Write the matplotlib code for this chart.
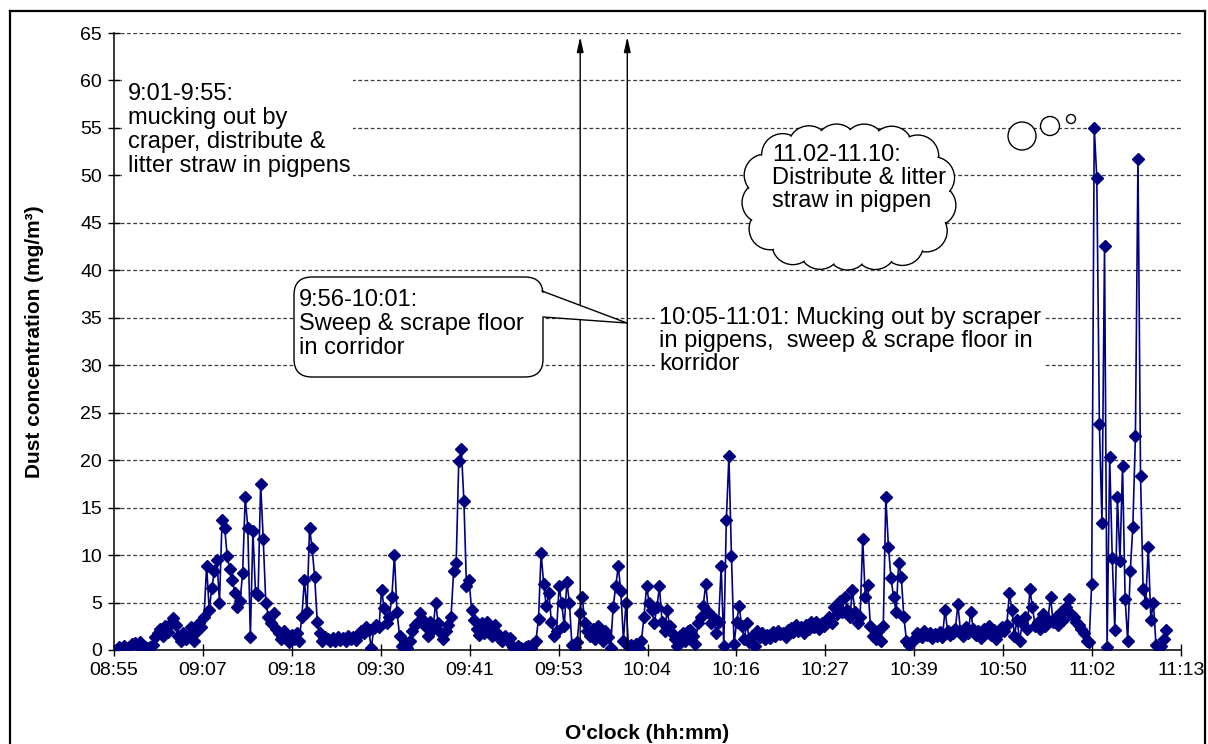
import matplotlib
matplotlib.use("Agg")
import matplotlib.pyplot as plt
from matplotlib.patches import Rectangle, FancyBboxPatch, Circle, Polygon
import numpy as np

# ---------------- data ----------------
# samples every 20 s, first sample at 08:55:40 (x axis = minutes after 08:55)
start_min = 40 / 60
step_min = 20 / 60
dust = [
    0.3, 0.2, 0.4,  0.2, 0.3, 0.6,  0.7, 0.5, 0.8,  0.4, 0.3, 0.2,
    0.3, 0.5, 1.4,  1.8, 2.2, 1.5,  2.5, 1.9, 2.8,  3.4, 2.6, 1.5,
    1.0, 1.8, 1.2,  1.5, 2.4, 1.0,  1.9, 2.8, 2.4,  3.5, 8.9, 4.2,
    6.5, 8.3, 9.5,  5.0, 13.7, 12.9,  9.9, 8.5, 7.4,  6.0, 4.5, 5.2,
    8.1, 16.1, 12.9,  1.4, 12.5, 6.0,  5.8, 17.5, 11.7,  5.0, 3.5, 2.8,
    3.9, 2.2, 1.8,  1.2, 2.0, 1.5,  0.8, 1.6, 1.2,  1.8, 1.0, 3.5,
    7.4, 4.0, 12.9,  10.7, 7.7, 3.0,  1.8, 1.0, 1.4,  1.2, 0.9, 1.3,
    1.0, 1.4, 1.1,  1.3, 1.0, 1.5,  1.2, 1.4, 1.1,  1.6, 2.0, 1.8,
    2.4, 2.1, 0.2,  2.3, 2.6, 2.4,  6.3, 4.4, 2.8,  3.5, 5.6, 10.0,
    4.0, 1.5, 0.4,  0.8, 0.2, 1.0,  2.0, 2.6, 3.0,  3.9, 3.2, 2.5,
    1.5, 3.0, 2.2,  5.0, 2.8, 1.8,  1.2, 2.0, 2.6,  3.5, 8.3, 9.2,
    19.9, 21.2, 15.7,  6.7, 7.4, 4.2,  3.2, 2.2, 1.6,  2.8, 1.8, 3.0,
    2.2, 1.5, 2.6,  1.8, 1.2, 1.0,  1.5, 1.0, 1.3,  0.3, 0.2, 0.4,
    0.2, 0.1, 0.3,  0.4, 0.2, 0.6,  1.0, 3.3, 10.2,  7.0, 4.6, 6.0,
    3.0, 1.5, 2.0,  6.7, 4.9, 2.5,  7.2, 5.0, 0.5,  0.3, 0.8, 3.9,
    5.6, 2.8, 2.0,  1.5, 2.2, 1.2,  2.5, 1.8, 1.0,  2.0, 1.4, 0.2,
    4.5, 6.7, 8.8,  6.2, 1.0, 5.0,  0.3, 0.5, 0.2,  0.6, 0.2, 1.0,
    3.5, 6.7, 5.0,  4.2, 2.8, 4.5,  6.7, 3.0, 2.0,  4.2, 2.5, 1.8,
    1.2, 0.4, 1.5,  1.8, 1.0, 2.0,  2.1, 1.5, 0.6,  2.8, 3.5, 4.6,
    7.0, 4.0, 2.8,  3.5, 1.8, 3.0,  8.8, 0.4, 13.7,  20.4, 9.9, 0.6,
    3.0, 4.6, 2.5,  1.2, 2.8, 0.8,  1.5, 0.4, 2.0,  1.4, 1.8, 1.2,
    1.6, 1.3, 1.9,  1.5, 2.0, 1.7,  1.8, 1.4, 2.1,  2.3, 1.9, 2.6,
    2.0, 2.4, 1.8,  2.6, 2.2, 2.9,  2.4, 3.0, 2.2,  2.8, 2.5, 3.0,
    3.5, 2.8, 4.5,  3.8, 5.2, 4.0,  5.6, 4.2, 3.5,  6.3, 4.0, 2.8,
    3.5, 11.7, 5.6,  6.9, 2.5, 1.5,  1.2, 2.0, 1.0,  2.5, 16.1, 10.9,
    7.6, 5.6, 4.0,  9.2, 7.7, 3.5,  1.0, 0.5, 0.8,  1.2, 1.8, 1.5,
    1.4, 2.0, 1.6,  1.8, 1.3, 1.7,  1.5, 1.9, 1.4,  4.2, 2.0, 1.6,
    1.8, 2.2, 4.8,  2.0, 1.5, 2.4,  1.8, 4.0, 2.2,  1.6, 2.0, 1.3,
    2.2, 1.8, 2.5,  1.6, 2.1, 1.2,  1.8, 2.4, 2.0,  2.6, 6.0, 4.2,
    1.5, 3.2, 1.0,  2.8, 3.5, 2.2,  6.4, 4.5, 2.5,  3.0, 2.2, 3.8,
    2.5, 3.2, 5.6,  3.0, 3.5, 2.6,  4.0, 3.2, 4.5,  5.4, 3.8, 3.5,
    3.0, 2.6, 2.2,  1.8, 1.0, 0.8,  7.0, 55.0, 49.7,  23.8, 13.4, 42.6,
    0.3, 20.3, 9.7,  2.1, 16.1, 9.4,  19.4, 5.4, 1.0,  8.3, 13.0, 22.5,
    51.7, 18.3, 6.4,  5.0, 10.8, 3.2,  5.0, 0.5, 0.2,  0.4, 1.2, 2.1,
]

x_tick_step = 11.52          # minutes
x_tick_labels = ["08:55", "09:07", "09:18", "09:30", "09:41", "09:53", "10:04",
                 "10:16", "10:27", "10:39", "10:50", "11:02", "11:13"]
y_ticks = list(range(0, 70, 5))
marker_times = [60.4, 66.5]   # vertical arrows (9:55 and 10:01), minutes after 08:55

note_1 = "9:01-9:55:\nmucking out by\ncraper, distribute &\nlitter straw in pigpens"
note_2 = "9:56-10:01:\nSweep & scrape floor\nin corridor"
note_3 = "10:05-11:01: Mucking out by scraper\nin pigpens,  sweep & scrape floor in\nkorridor"
note_4 = "11.02-11.10:\nDistribute & litter\nstraw in pigpen"

# ---------------- figure ----------------
plt.rcParams['font.family'] = ['Liberation Sans', 'DejaVu Sans']
W, H = 1208, 744
fig = plt.figure(figsize=(W / 100, H / 100), dpi=100)
ax = fig.add_axes([114 / W, (H - 650) / H, (1181 - 114) / W, (650 - 33) / H])

t = start_min + step_min * np.arange(len(dust))
navy = '#000080'
ax.plot(t, dust, color=navy, lw=1.2, marker='D', ms=6.0, mfc=navy, mec=navy, zorder=3)

xticks = [i * x_tick_step for i in range(len(x_tick_labels))]
ax.set_xlim(0, xticks[-1])
ax.set_ylim(0, 65)
ax.set_xticks(xticks)
ax.set_xticklabels(x_tick_labels)
ax.set_yticks(y_ticks)
ax.tick_params(axis='both', direction='inout', length=9, width=1, labelsize=14, pad=4)
ax.yaxis.grid(True, linestyle=(0, (3, 2)), color='#3a3a3a', lw=0.9)
ax.set_axisbelow(True)
for s in ['top', 'right']:
    ax.spines[s].set_visible(False)
for s in ['left', 'bottom']:
    ax.spines[s].set_linewidth(1.1)

ax.set_ylabel("Dust concentration (mg/m³)", fontsize=15, fontweight='bold')
ax.set_xlabel("O'clock (hh:mm)", fontsize=15, fontweight='bold')
ax.yaxis.set_label_coords(-0.066, 0.5)
ax.xaxis.set_label_coords(0.5, -0.12)

for mt in marker_times:
    ax.annotate('', xy=(mt, 64.6), xytext=(mt, 0),
                arrowprops=dict(arrowstyle='-|>,head_length=0.9,head_width=0.2',
                                color='black', lw=1.0, shrinkA=0, shrinkB=0,
                                mutation_scale=10), zorder=4)

# ---------------- overlay in pixel coords ----------------
ov = fig.add_axes([0, 0, 1, 1])
ov.set_xlim(0, W)
ov.set_ylim(H, 0)
ov.axis('off')

# figure border
ov.plot([10, 10], [11, H + 5], color='black', lw=1.6, clip_on=False)
ov.plot([10, 1205], [11, 11], color='black', lw=1.6)
ov.plot([1205, 1205], [11, H + 5], color='black', lw=1.6, clip_on=False)

fs = 17
# note 1
ov.add_patch(Rectangle((122, 72), 231, 114, fc='white', ec='none', zorder=2))
ov.text(128, 130, note_1, fontsize=fs, va='center', ha='left', linespacing=1.12, zorder=3)

# note 3
ov.add_patch(Rectangle((655, 302), 390, 78, fc='white', ec='none', zorder=2))
ov.text(659, 341, note_3, fontsize=fs, va='center', ha='left', linespacing=1.08, zorder=3)

# note 2: rounded callout
ov.add_patch(FancyBboxPatch((294, 277), 249, 100,
                            boxstyle='round,pad=0,rounding_size=18',
                            fc='white', ec='black', lw=1.0, zorder=4))
ov.add_patch(Polygon([(538, 291), (627, 323), (538, 317)], closed=True,
                     fc='white', ec='none', zorder=5))
ov.plot([542, 627, 543], [291, 323, 317], color='black', lw=1.0, zorder=6)
ov.text(299, 324, note_2, fontsize=fs, va='center', ha='left', linespacing=1.12, zorder=7)

# note 4: cloud callout (bumps evenly spaced along a super-ellipse)
ccx, ccy, ea, eb, br, nb = 849, 197, 86, 52, 21, 17
u = np.linspace(0, 2 * np.pi, 2000)
px = ccx + ea * np.sign(np.cos(u)) * np.abs(np.cos(u)) ** (2 / 3)
py = ccy + eb * np.sign(np.sin(u)) * np.abs(np.sin(u)) ** (2 / 3)
seg = np.hypot(np.diff(px), np.diff(py))
cum = np.concatenate([[0], np.cumsum(seg)])
targets = (np.arange(nb) + 0.3) * cum[-1] / nb
cxs = np.interp(targets, cum, px)
cys = np.interp(targets, cum, py)
for cx, cy in zip(cxs, cys):
    ov.add_patch(Circle((cx, cy), br, fc='white', ec='black', lw=1.0, zorder=4))
for cx, cy in zip(cxs, cys):
    ov.add_patch(Circle((cx, cy), br - 1.3, fc='white', ec='none', zorder=5))
ov.add_patch(Polygon(np.column_stack([px, py]), closed=True, fc='white', ec='none', zorder=5))
for cx, cy, r in [(1022, 136, 14), (1050, 126, 9.5), (1071, 119, 4.5)]:
    ov.add_patch(Circle((cx, cy), r, fc='white', ec='black', lw=1.0, zorder=4))
ov.text(772, 178, note_4, fontsize=fs, va='center', ha='left', linespacing=1.05, zorder=7)

fig.savefig('out.png', dpi=100)
